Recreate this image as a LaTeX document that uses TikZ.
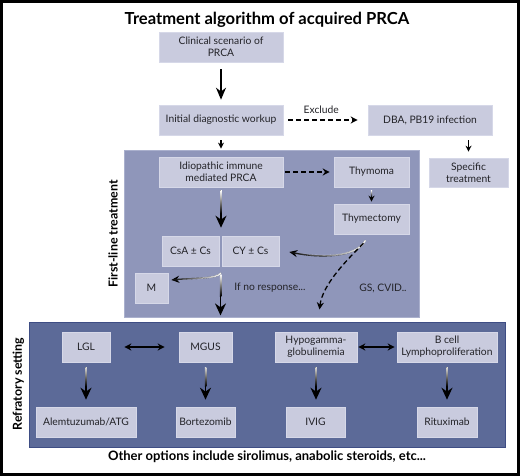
\documentclass[tikz,border=0pt]{standalone}
\usepackage{fontspec}
\setmainfont{Lato}
\usetikzlibrary{arrows.meta,calc,fadings}
\definecolor{boxc}{RGB}{201,203,222}
\definecolor{boxb}{RGB}{214,216,232}
\definecolor{flc}{RGB}{143,150,186}
\definecolor{flb}{RGB}{170,176,205}
\definecolor{rfc}{RGB}{92,106,152}
\definecolor{rfb}{RGB}{62,77,132}
\definecolor{txt}{RGB}{35,35,40}
\tikzfading[name=fadeR, left color=transparent!100, middle color=transparent!100, right color=transparent!0]
\begin{document}
\begin{tikzpicture}[x=1pt,y=-1pt,
  box/.style={rectangle, fill=boxc, draw=boxb, line width=0.6pt, inner sep=1pt, align=center,
    font=\fontsize{10.3}{12}\selectfont, text=txt, minimum height=30pt},
  flbox/.style={rectangle, fill=flc, draw=flb, line width=0.8pt},
  rfbox/.style={rectangle, fill=rfc, draw=rfb, line width=1pt},
  lbl/.style={font=\fontsize{10.3}{12}\selectfont, text=txt},
  head/.style={font=\fontsize{12.4}{14}\selectfont\bfseries, text=black},
  arr/.style={draw=black, line width=1.3pt, -{Stealth[length=12pt,width=10pt]}},
  arrs/.style={draw=black, line width=1.1pt, -{Stealth[length=6pt,width=6pt]}},
  dasharr/.style={draw=black, line width=1.3pt, dashed, dash pattern=on 5pt off 3pt, -{Stealth[length=7pt,width=7pt]}},
  darr/.style={draw=black, line width=1.2pt, {Stealth[length=7pt,width=7pt]}-{Stealth[length=7pt,width=7pt]}},
  garr/.style={draw=black, line width=1.4pt, -{Stealth[length=12pt,width=11pt]}},
  gover/.style={draw=white, line width=1.5pt, path fading=fadeR}
]
\useasboundingbox (0,0) rectangle (520,476);
\draw[line width=3pt] (1.5,1.5) rectangle (518.5,474.5);

\node[font=\fontsize{16.6}{19}\selectfont\bfseries] (title) at (267,20) {Treatment algorithm of acquired PRCA};

% top boxes
\node[box, minimum width=124pt] (clin) at (221,47) {Clinical scenario of\\PRCA};
\node[box, minimum width=124pt] (init) at (221,120) {Initial diagnostic workup};
\node[box, minimum width=124pt] (dba) at (430,120) {DBA, PB19 infection};
\node[box, minimum width=79pt, minimum height=29pt] (spec) at (468.5,172.5) {Specific\\treatment};

% first-line panel
\node[flbox, minimum width=295pt, minimum height=167pt] (fl) at (271.5,233.5) {};
\node[head, rotate=90] (fltxt) at (113,234) {First-line treatment};
\node[box, minimum width=124pt] (idio) at (221,172) {Idiopathic immune\\mediated PRCA};
\node[box, minimum width=75pt] (thymoma) at (371.5,172) {Thymoma};
\node[box, minimum width=75pt] (thymect) at (371.5,219) {Thymectomy};
\node[box, minimum width=57pt] (csa) at (190.5,251) {CsA ± Cs};
\node[box, minimum width=57pt] (cy) at (250.5,251) {CY ± Cs};
\node[box, minimum width=33pt] (M) at (151.5,288) {M};
\node[lbl] (nr) at (270,288) {If no response...};
\node[lbl] (gs) at (383,288) {GS, CVID..};
\coordinate (split) at (220.5,266);

% refractory panel
\node[rfbox, minimum width=476pt, minimum height=125pt] (rf) at (267,384.5) {};
\node[head, rotate=90] (rftxt) at (18.5,384) {Refratory setting};
\node[box, minimum width=48pt] (lgl) at (86,347) {LGL};
\node[box, minimum width=53pt] (mgus) at (205.5,347) {MGUS};
\node[box, minimum width=82pt] (hypo) at (316,347) {Hypogamma-\\globulinemia};
\node[box, minimum width=100pt] (bcell) at (447,347) {B cell\\Lymphoproliferation};
\node[box, minimum width=100pt] (alem) at (86,422) {Alemtuzumab/ATG};
\node[box, minimum width=59pt] (bort) at (205.5,422) {Bortezomib};
\node[box, minimum width=59pt] (ivig) at (315.5,422) {IVIG};
\node[box, minimum width=60pt] (ritu) at (447,422) {Rituximab};

\node[head, font=\fontsize{13}{15}\selectfont\bfseries] (other) at (267,457) {Other options include sirolimus, anabolic steroids, etc...};

% top connectors
\draw[arr, shorten <=7pt, shorten >=5pt] (clin.south) -- (init.north);
\draw[arrs, shorten <=5pt, shorten >=1pt] (init.south) -- (init.south |- fl.north);
\draw[arrs, shorten <=5pt, shorten >=6pt] (spec.north |- dba.south) -- (spec.north);
\draw[dasharr, shorten <=5pt, shorten >=10pt] (init.east) -- node[lbl, above=2pt, pos=0.45] (excl) {Exclude} (dba.west);

% first-line connectors
\draw[dasharr, shorten <=2pt, shorten >=4pt] (idio.east) -- (thymoma.west);
\draw[garr, shorten <=3pt, shorten >=8pt] (idio.south) -- (idio.south |- csa.north);
\shade[top color=white, bottom color=black] ($(idio.south)+(-0.75,3)$) rectangle ($(idio.south)+(0.75,26)$);
\draw[arrs, line width=1.2pt, shorten <=3pt, shorten >=2pt] (thymoma.south) -- (thymect.north);
\shade[top color=white, bottom color=black] ($(thymoma.south)+(-0.7,3)$) rectangle ($(thymoma.south)+(0.7,9)$);
\draw[garr, shorten <=8pt, shorten >=2pt] (split) -- (split |- fl.south);
\shade[top color=white, bottom color=black] ($(split)+(-0.75,8)$) rectangle ($(split)+(0.75,30)$);
\draw[draw=black, line width=1.3pt, -{Stealth[length=8pt,width=7pt]}] ($(split)+(0.5,7)$) .. controls +(-4,6) and +(22,-2) .. ($(M.east)+(3,-8)$);
\draw[gover] ($(split)+(0.5,7)$) .. controls +(-4,6) and +(22,-2) .. ($(M.east)+(3,-8)$);
\draw[draw=black, line width=1.3pt, -{Stealth[length=8pt,width=7pt]}] ($(thymect.south)+(-6,6)$) .. controls +(-10,18) and +(30,6) .. ($(cy.east)+(10,1)$);
\draw[gover] ($(thymect.south)+(-6,6)$) .. controls +(-10,18) and +(30,6) .. ($(cy.east)+(10,1)$);
\draw[dasharr] ($(thymect.south)+(-8,9)$) .. controls +(-16,16) and +(3,-25) .. ($(fl.south)+(48,-8)$);

% refractory connectors
\draw[darr, shorten <=14pt, shorten >=14pt] (lgl.east) -- (mgus.west);
\draw[darr, shorten <=1pt, shorten >=2pt] (hypo.east) -- (bcell.west);
\foreach \a/\b in {lgl/alem, mgus/bort, hypo/ivig, bcell/ritu}{
  \draw[garr, shorten <=5pt, shorten >=7pt] (\a.south) -- (\a.south |- \b.north);
  \shade[top color=white!85!black, bottom color=black] ($(\a.south)+(-0.75,5)$) rectangle ($(\a.south)+(0.75,24)$);
}
\end{tikzpicture}
\end{document}
